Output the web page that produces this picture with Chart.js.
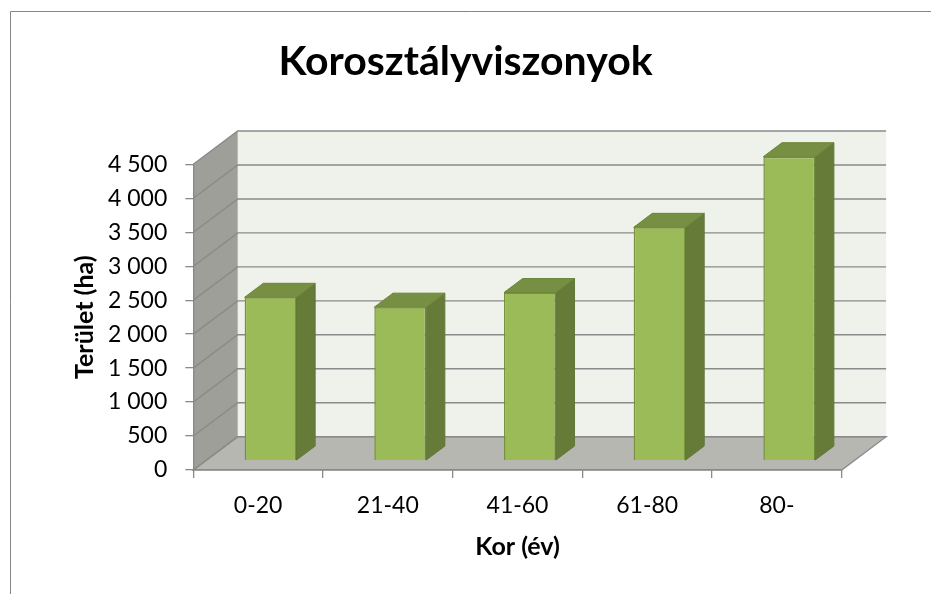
<!DOCTYPE html>
<html><head><meta charset="utf-8">
<script src="https://cdn.jsdelivr.net/npm/chart.js@4.4.0/dist/chart.umd.min.js"></script>
<style>html,body{margin:0;padding:0;background:#fff;} canvas{display:block;}</style>
</head><body>
<canvas id="c" width="931" height="594"></canvas>
<script>
// ---- data ----
const categories = ['0-20', '21-40', '41-60', '61-80', '80-'];
const areaValues = [2405, 2260, 2475, 3435, 4475];
const yTickLabels = ['0', '500', '1 000', '1 500', '2 000', '2 500', '3 000', '3 500', '4 000', '4 500'];
const titleText = 'Korosztályviszonyok';
const yTitleText = 'Terület (ha)';
const xTitleText = 'Kor (év)';

// ---- 3D look ----
const DX = 44.4, DY = 33.3;          // full depth of the plot box
const BAR_FRONT = 0.28, BAR_BACK = 0.70; // bar depth position (fraction)
const GRID = '#8a8a8a';
const FONT = 'Lato';

function poly(ctx, pts, fill, stroke) {
  ctx.beginPath();
  ctx.moveTo(pts[0][0], pts[0][1]);
  for (let i = 1; i < pts.length; i++) ctx.lineTo(pts[i][0], pts[i][1]);
  ctx.closePath();
  if (fill) { ctx.fillStyle = fill; ctx.fill(); }
  if (stroke) { ctx.strokeStyle = stroke; ctx.stroke(); }
}

const threeD = {
  id: 'threeD',
  beforeDraw(chart) {
    const ctx = chart.ctx, a = chart.chartArea, ys = chart.scales.y;
    const L = a.left, R = a.right, T = a.top, B = a.bottom;
    ctx.save();
    // outer frame
    ctx.strokeStyle = '#878787'; ctx.lineWidth = 1;
    ctx.beginPath(); ctx.moveTo(10.5, 594); ctx.lineTo(10.5, 11.5); ctx.lineTo(931, 11.5); ctx.stroke();
    // back wall
    ctx.fillStyle = '#eff2ea';
    ctx.fillRect(L + DX, T - DY, R - L, B - T);
    // side wall
    poly(ctx, [[L, T], [L + DX, T - DY], [L + DX, B - DY], [L, B]], '#9d9f98');
    // floor
    ctx.lineWidth = 1.3;
    poly(ctx, [[L, B], [L + DX, B - DY], [R + DX, B - DY], [R, B]], '#b5b7b0', GRID);
    // gridlines on walls
    ctx.strokeStyle = GRID; ctx.lineWidth = 1.4;
    ys.ticks.forEach(t => {
      const py = ys.getPixelForValue(t.value);
      ctx.beginPath();
      ctx.moveTo(L, py); ctx.lineTo(L + DX, py - DY); ctx.lineTo(R + DX, py - DY);
      ctx.stroke();
    });
    ctx.restore();
  },
  beforeDatasetsDraw(chart) {
    chart.ctx.save();
    chart.ctx.translate(BAR_FRONT * DX, -BAR_FRONT * DY);
  },
  afterDatasetsDraw(chart) {
    const ctx = chart.ctx;
    const d = BAR_BACK - BAR_FRONT, bdx = d * DX, bdy = d * DY;
    const meta = chart.getDatasetMeta(0);
    ctx.lineWidth = 1;
    meta.data.forEach(bar => {
      const p = bar.getProps(['x', 'y', 'base', 'width'], true);
      const l = p.x - p.width / 2, r = p.x + p.width / 2, t = p.y, b = p.base;
      poly(ctx, [[r, t], [r + bdx, t - bdy], [r + bdx, b - bdy], [r, b]], '#657b37', '#62773a');
      poly(ctx, [[l, t], [l + bdx, t - bdy], [r + bdx, t - bdy], [r, t]], '#778f42', '#6c8539');
    });
    ctx.restore();
  }
};

Chart.defaults.color = '#000';
Chart.defaults.font.family = FONT;

new Chart(document.getElementById('c'), {
  type: 'bar',
  data: {
    labels: categories,
    datasets: [{
      data: areaValues,
      backgroundColor: '#9bbb59',
      borderColor: '#76923c',
      borderWidth: 1.5,
      categoryPercentage: 1,
      barPercentage: 0.4,
      clip: false
    }]
  },
  options: {
    responsive: false,
    animation: false,
    layout: { padding: { left: 0, right: 0, top: 0, bottom: 0 } },
    plugins: {
      legend: { display: false },
      tooltip: { enabled: false },
      title: {
        display: true,
        text: titleText,
        font: { family: FONT, size: 41, weight: 'bold' },
        color: '#000',
        padding: { top: 37, bottom: 78.1 }
      }
    },
    scales: {
      x: {
        offset: true,
        grid: { display: true, drawOnChartArea: false, tickLength: 8, color: GRID, offset: true, lineWidth: 1.3 },
        border: { display: true, color: GRID, width: 1.3 },
        ticks: { font: { family: FONT, size: 23 }, padding: 14, color: '#000' },
        title: { display: true, text: xTitleText, color: '#000',
                 font: { family: FONT, size: 25, weight: 'bold' }, padding: { top: 0, bottom: 32.5 } },
        afterFit(s) { s.height = 124; }
      },
      y: {
        min: 0, max: 4500,
        ticks: { stepSize: 500, callback: (v, i) => yTickLabels[i], padding: 18,
                 font: { family: FONT, size: 23 }, color: '#000' },
        grid: { drawOnChartArea: false, tickLength: 8, color: GRID, lineWidth: 1.3 },
        border: { display: true, color: GRID, width: 1.3 },
        title: { display: true, text: yTitleText, color: '#000',
                 font: { family: FONT, size: 25, weight: 'bold' }, padding: { top: 70, bottom: 0 } },
        afterFit(s) { s.width = 193.3; }
      },
      ySpace: {
        position: 'right',
        min: 0, max: 4500,
        ticks: { display: false },
        grid: { display: false, drawOnChartArea: false },
        border: { display: false },
        afterFit(s) { s.width = 89.3; }
      }
    }
  },
  plugins: [threeD]
});
</script>
</body></html>
